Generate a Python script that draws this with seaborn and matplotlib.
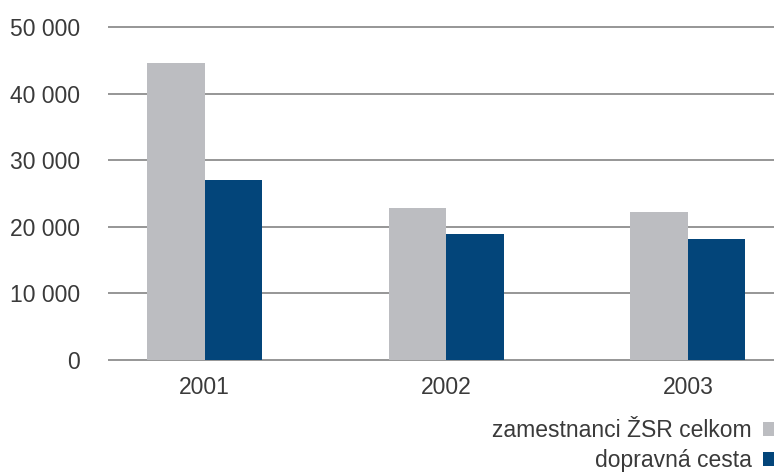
import matplotlib
matplotlib.use("Agg")
import matplotlib.pyplot as plt
from matplotlib.patches import Patch
import matplotlib.ticker as mticker
import pandas as pd
import seaborn as sns

# Data
years = ["2001", "2002", "2003"]
zsr_celkom = [44700, 22800, 22200]
dopravna_cesta = [27000, 18900, 18200]
series_names = ["zamestnanci ŽSR celkom", "dopravná cesta"]
colors = ["#BCBDC1", "#03457A"]

df = pd.DataFrame({
    "rok": years * 2,
    "pocet": zsr_celkom + dopravna_cesta,
    "skupina": [series_names[0]] * len(years) + [series_names[1]] * len(years),
})

sns.set_theme(style="white")
plt.rcParams["font.family"] = ["Liberation Sans", "DejaVu Sans"]

fig = plt.figure(figsize=(7.74, 4.74), dpi=100)
ax = fig.add_axes([108 / 774, 112 / 474, 1 - 108 / 774, 338 / 474])

sns.barplot(data=df, x="rok", y="pocet", hue="skupina", palette=colors,
            width=0.476, gap=0, saturation=1, linewidth=0, ax=ax, legend=False)

ax.set_xlim(-0.40, 2.356)
ax.set_ylim(-300, 50500)
ax.set_yticks([0, 10000, 20000, 30000, 40000, 50000])
ax.yaxis.set_major_formatter(mticker.FuncFormatter(lambda v, p: f"{int(v):,}".replace(",", " ")))
ax.grid(axis="y", color="#8E8E8E", linewidth=1.3)
ax.set_axisbelow(True)
for s in ax.spines.values():
    s.set_visible(False)
ax.set_xlabel("")
ax.set_ylabel("")
ax.tick_params(axis="y", length=0, pad=20, labelsize=16.5, labelcolor="#3A3A3A")
ax.tick_params(axis="x", length=0, pad=10, labelsize=16.5, labelcolor="#3A3A3A")

handles = [Patch(facecolor=c, edgecolor="none") for c in colors]
fig.legend(handles, series_names, loc="lower right", bbox_to_anchor=(1.014, -0.016),
           markerfirst=False, frameon=False, fontsize=16.5, labelcolor="#3A3A3A",
           handlelength=0.55, handleheight=0.55, handletextpad=0.5,
           labelspacing=0.32, borderaxespad=0)

fig.savefig("out.png", dpi=100)
